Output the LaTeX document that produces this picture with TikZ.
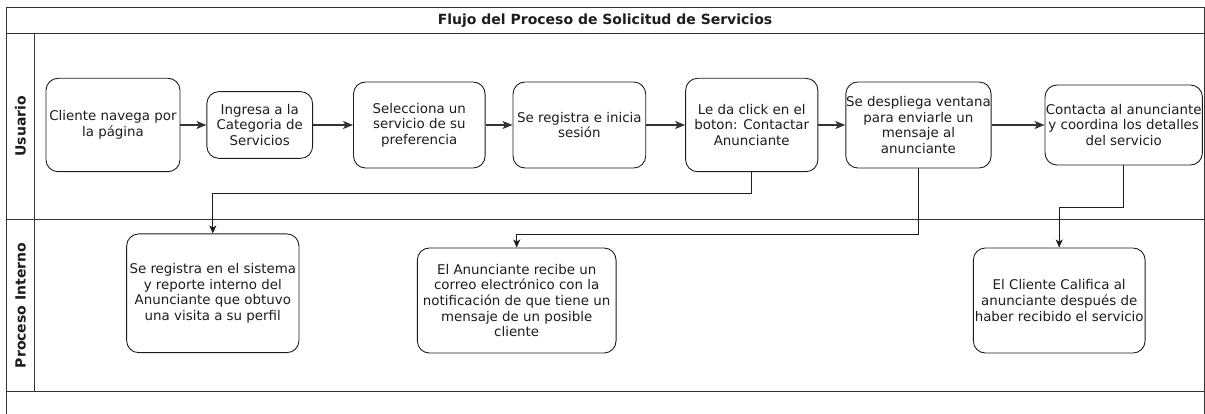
\documentclass[tikz,border=0pt]{standalone}
\usepackage{fontspec}
\setmainfont{DejaVu Sans}
\usetikzlibrary{positioning,arrows.meta}
\definecolor{colorline}{RGB}{51,51,51}
\definecolor{colortext}{RGB}{29,29,27}

\begin{document}
\begin{tikzpicture}[
    x=1pt, y=-1pt,
    font={\fontsize{13.4}{15.6}\selectfont},
    base/.style={text=colortext,align=center,inner sep=0pt},
    txt/.style={base,font={\fontsize{14}{16}\selectfont\bfseries}},
    lanetxt/.style={txt,rotate=90},
    stepbox/.style={base,draw=colortext,line width=0.9pt,rounded corners=12pt},
    flow/.style={-{Stealth[length=10pt,width=8pt,inset=2.5pt]},colorline,line width=1.5pt},
    drop/.style={-{Stealth[length=8pt,width=7pt,inset=2pt]},colortext,line width=0.9pt},
    pool/.style={colorline,line width=1pt},
]
    \useasboundingbox (0,0) rectangle (1205,414);

    % Pool and lanes
    \draw[pool] (6.7,414) -- (6.7,7.3) -- (1204,7.3) -- (1204,414);
    \draw[pool] (6.7,33.3) -- (1204,33.3);
    \draw[pool] (6.7,219.3) -- (1204,219.3);
    \draw[pool] (6.7,391.7) -- (1204,391.7);
    \draw[pool] (34.3,33.3) -- (34.3,391.7);

    % Title and lane names
    \node[txt] (titulo) at (605,20.3) {Flujo del Proceso de Solicitud de Servicios};
    \node[lanetxt] (usuario) at (20.5,126.3) {Usuario};
    \node[lanetxt] (interno) at (20.5,305.5) {Proceso Interno};

    % Usuario lane
    \node[stepbox,minimum width=134pt,minimum height=93.4pt] (navega) at (113,125) {Cliente navega por\\la página};
    \node[stepbox,minimum width=105.7pt,minimum height=66.7pt,right=26pt of navega] (categoria) {Ingresa a la\\Categoria de\\Servicios};
    \node[stepbox,minimum width=131.6pt,minimum height=86pt,right=40pt of categoria] (selecciona) {Selecciona un\\servicio de su\\preferencia};
    \node[stepbox,minimum width=132.7pt,minimum height=86pt,right=27pt of selecciona] (registro) {Se registra e inicia\\sesión};
    \node[stepbox,minimum width=132.3pt,minimum height=93.4pt,right=39pt of registro] (contactar) {Le da click en el\\boton: Contactar\\Anunciante};
    \node[stepbox,minimum width=145.3pt,minimum height=86pt,right=27pt of contactar] (ventana) {Se despliega ventana\\para enviarle un\\mensaje al\\anunciante};
    \node[stepbox,minimum width=157.4pt,minimum height=80pt,right=53pt of ventana] (coordina) {Contacta al anunciante\\y coordina los detalles\\del servicio};
    \draw[flow](navega) -- (categoria);
    \draw[flow](categoria) -- (selecciona);
    \draw[flow](selecciona) -- (registro);
    \draw[flow](registro) -- (contactar);
    \draw[flow](contactar) -- (ventana);
    \draw[flow](ventana) -- (coordina);

    % Proceso Interno lane
    \node[stepbox,minimum width=172.3pt,minimum height=118.7pt] (sistema) at (212.8,293.3) {Se registra en el sistema\\y reporte interno del\\Anunciante que obtuvo\\una visita a su perfil};
    \node[stepbox,minimum width=198.7pt,minimum height=105pt] (correo) at (516.7,300.5) {El Anunciante recibe un\\correo electrónico con la\\notificación de que tiene un\\mensaje de un posible\\cliente};
    \node[stepbox,minimum width=171.7pt,minimum height=105pt] (califica) at (1059.2,300.5) {El Cliente Califica al\\anunciante después de\\haber recibido el servicio};
    \draw[drop](contactar.south) -- ++(0,21) -| (sistema.north);
    \draw[drop](ventana.south) -- ++(0,65.6) -| (correo.north);
    \draw[drop](coordina.south) -- ++(0,41.7) -| (califica.north);

\end{tikzpicture}
\end{document}
